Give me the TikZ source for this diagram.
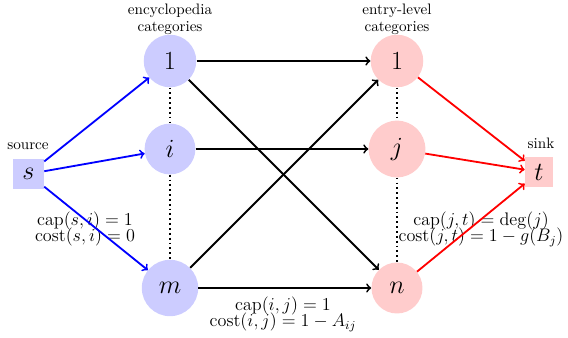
\documentclass[tikz,border=0pt]{standalone}
\usetikzlibrary{arrows}
\begin{document}
\begin{tikzpicture}[x=0.66pt,y=-0.66pt,
  lnode/.style={circle,fill=blue!20,inner sep=7.5pt,font=\LARGE},
  rnode/.style={circle,fill=red!20,inner sep=7.5pt,font=\LARGE},
  snode/.style={rectangle,fill=blue!20,minimum width=20.4pt,minimum height=19.8pt,inner sep=0pt,font=\LARGE},
  tnode/.style={rectangle,fill=red!20,minimum width=18.5pt,minimum height=19.8pt,inner sep=0pt,font=\LARGE},
  txt/.style={inner sep=0pt,anchor=base,font=\normalsize},
  mtxt/.style={inner sep=0pt,anchor=north,align=center,font=\large},
  edge/.style={line width=1.2pt,->},
  dots/.style={line width=1.2pt,dotted}]
\useasboundingbox (0,0) rectangle (568,337);
\node[lnode] (l1) at (170,61) {$1$};
\node[lnode] (li) at (170,149) {$i$};
\node[lnode] (lm) at (170,288) {$m$};
\node[rnode] (r1) at (397,61) {$1$};
\node[rnode] (rj) at (397,149) {$j$};
\node[rnode] (rn) at (397,288) {$n$};
\node[snode] (s) at (28.5,174) {$s$};
\node[tnode] (t) at (539,172) {$t$};
\node[txt] (enc1) at (170,14) {encyclopedia};
\node[txt] (enc2) at (170,31) {categories};
\node[txt] (ent1) at (397,14) {entry-level};
\node[txt] (ent2) at (397,31) {categories};
\node[txt] (src) at (28,149) {source};
\node[txt] (snk) at (541,148) {sink};
\node[mtxt] (c1) at (85,211.5) {$\mathrm{cap}(s,i)=1$\\[-3.3pt]$\mathrm{cost}(s,i)=0$};
\node[mtxt] (c2) at (283,296.5) {$\mathrm{cap}(i,j)=1$\\[-3.3pt]$\mathrm{cost}(i,j)=1-A_{ij}$};
\node[mtxt] (c3) at (481,211.5) {$\mathrm{cap}(j,t)=\deg(j)$\\[-3.3pt]$\mathrm{cost}(j,t)=1-g(B_j)$};
\draw[dots] (l1) -- (li);
\draw[dots] (li) -- (lm);
\draw[dots] (r1) -- (rj);
\draw[dots] (rj) -- (rn);
\draw[edge,blue] (s) -- (l1);
\draw[edge,blue] (s) -- (li);
\draw[edge,blue] (s) -- (lm);
\draw[edge] (l1) -- (r1);
\draw[edge] (l1) -- (rn);
\draw[edge] (li) -- (rj);
\draw[edge] (lm) -- (r1);
\draw[edge] (lm) -- (rn);
\draw[edge,red] (r1) -- (t);
\draw[edge,red] (rj) -- (t);
\draw[edge,red] (rn) -- (t);
\end{tikzpicture}
\end{document}
